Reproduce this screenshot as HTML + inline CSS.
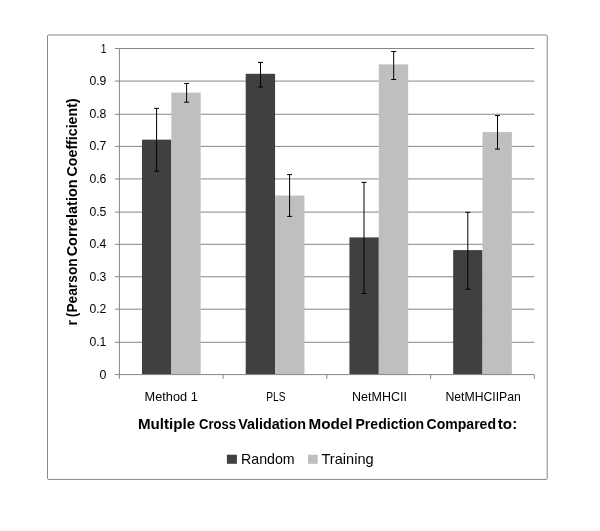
<!DOCTYPE html>
<html><head><meta charset="utf-8"><title>Chart</title>
<style>html,body{margin:0;padding:0;background:#fff;overflow:hidden}svg{display:block}text{font-family:"Liberation Sans",Arial,sans-serif;fill:#000}</style></head><body>
<svg width="600" height="531" viewBox="0 0 600 531">
<rect x="0" y="0" width="600" height="531" fill="#fff"/>
<rect x="47.5" y="35" width="499.7" height="444.4" rx="1" ry="1" fill="#fff" stroke="#868686" stroke-width="1"/>
<line x1="119.4" y1="342.30" x2="534.3" y2="342.30" stroke="#868686" stroke-width="1"/>
<line x1="119.4" y1="309.20" x2="534.3" y2="309.20" stroke="#868686" stroke-width="1"/>
<line x1="119.4" y1="276.75" x2="534.3" y2="276.75" stroke="#868686" stroke-width="1"/>
<line x1="119.4" y1="244.30" x2="534.3" y2="244.30" stroke="#868686" stroke-width="1"/>
<line x1="119.4" y1="212.10" x2="534.3" y2="212.10" stroke="#868686" stroke-width="1"/>
<line x1="119.4" y1="178.95" x2="534.3" y2="178.95" stroke="#868686" stroke-width="1"/>
<line x1="119.4" y1="146.40" x2="534.3" y2="146.40" stroke="#868686" stroke-width="1"/>
<line x1="119.4" y1="114.25" x2="534.3" y2="114.25" stroke="#868686" stroke-width="1"/>
<line x1="119.4" y1="81.10" x2="534.3" y2="81.10" stroke="#868686" stroke-width="1"/>
<line x1="119.4" y1="48.50" x2="534.3" y2="48.50" stroke="#868686" stroke-width="1"/>
<rect x="142.00" y="139.65" width="29.35" height="234.95" fill="#404040"/>
<rect x="171.35" y="92.60" width="29.35" height="282.00" fill="#bfbfbf"/>
<rect x="245.72" y="73.80" width="29.35" height="300.80" fill="#404040"/>
<rect x="275.07" y="195.50" width="29.35" height="179.10" fill="#bfbfbf"/>
<rect x="349.45" y="237.40" width="29.35" height="137.20" fill="#404040"/>
<rect x="378.80" y="64.40" width="29.35" height="310.20" fill="#bfbfbf"/>
<rect x="453.17" y="250.10" width="29.35" height="124.50" fill="#404040"/>
<rect x="482.52" y="132.10" width="29.35" height="242.50" fill="#bfbfbf"/>
<line x1="119.4" y1="48.5" x2="119.4" y2="374.6" stroke="#868686" stroke-width="1"/>
<line x1="119.4" y1="374.6" x2="534.3" y2="374.6" stroke="#868686" stroke-width="1"/>
<line x1="114.9" y1="374.60" x2="119.4" y2="374.60" stroke="#868686" stroke-width="1"/>
<line x1="114.9" y1="342.30" x2="119.4" y2="342.30" stroke="#868686" stroke-width="1"/>
<line x1="114.9" y1="309.20" x2="119.4" y2="309.20" stroke="#868686" stroke-width="1"/>
<line x1="114.9" y1="276.75" x2="119.4" y2="276.75" stroke="#868686" stroke-width="1"/>
<line x1="114.9" y1="244.30" x2="119.4" y2="244.30" stroke="#868686" stroke-width="1"/>
<line x1="114.9" y1="212.10" x2="119.4" y2="212.10" stroke="#868686" stroke-width="1"/>
<line x1="114.9" y1="178.95" x2="119.4" y2="178.95" stroke="#868686" stroke-width="1"/>
<line x1="114.9" y1="146.40" x2="119.4" y2="146.40" stroke="#868686" stroke-width="1"/>
<line x1="114.9" y1="114.25" x2="119.4" y2="114.25" stroke="#868686" stroke-width="1"/>
<line x1="114.9" y1="81.10" x2="119.4" y2="81.10" stroke="#868686" stroke-width="1"/>
<line x1="114.9" y1="48.50" x2="119.4" y2="48.50" stroke="#868686" stroke-width="1"/>
<line x1="119.40" y1="374.6" x2="119.40" y2="378.90000000000003" stroke="#868686" stroke-width="1"/>
<line x1="223.12" y1="374.6" x2="223.12" y2="378.90000000000003" stroke="#868686" stroke-width="1"/>
<line x1="326.85" y1="374.6" x2="326.85" y2="378.90000000000003" stroke="#868686" stroke-width="1"/>
<line x1="430.57" y1="374.6" x2="430.57" y2="378.90000000000003" stroke="#868686" stroke-width="1"/>
<line x1="534.30" y1="374.6" x2="534.30" y2="378.90000000000003" stroke="#868686" stroke-width="1"/>
<path d="M156.60 108.35V171.20M154.10 108.35h5M154.10 171.20h5" stroke="#000" stroke-width="1" fill="none"/>
<path d="M186.60 83.50V102.20M184.10 83.50h5M184.10 102.20h5" stroke="#000" stroke-width="1" fill="none"/>
<path d="M260.50 62.40V87.00M258.00 62.40h5M258.00 87.00h5" stroke="#000" stroke-width="1" fill="none"/>
<path d="M289.60 174.60V216.40M287.10 174.60h5M287.10 216.40h5" stroke="#000" stroke-width="1" fill="none"/>
<path d="M364.00 182.40V293.50M361.50 182.40h5M361.50 293.50h5" stroke="#000" stroke-width="1" fill="none"/>
<path d="M393.70 51.50V79.50M391.20 51.50h5M391.20 79.50h5" stroke="#000" stroke-width="1" fill="none"/>
<path d="M467.80 212.30V289.20M465.30 212.30h5M465.30 289.20h5" stroke="#000" stroke-width="1" fill="none"/>
<path d="M497.50 115.60V149.10M495.00 115.60h5M495.00 149.10h5" stroke="#000" stroke-width="1" fill="none"/>
<text x="99.50" y="378.60" font-size="12.0" textLength="6.90" lengthAdjust="spacingAndGlyphs">0</text>
<text x="89.40" y="346.30" font-size="12.0" textLength="17.00" lengthAdjust="spacingAndGlyphs">0.1</text>
<text x="89.40" y="313.20" font-size="12.0" textLength="17.00" lengthAdjust="spacingAndGlyphs">0.2</text>
<text x="89.40" y="280.75" font-size="12.0" textLength="17.00" lengthAdjust="spacingAndGlyphs">0.3</text>
<text x="89.40" y="248.30" font-size="12.0" textLength="17.00" lengthAdjust="spacingAndGlyphs">0.4</text>
<text x="89.40" y="216.10" font-size="12.0" textLength="17.00" lengthAdjust="spacingAndGlyphs">0.5</text>
<text x="89.40" y="182.95" font-size="12.0" textLength="17.00" lengthAdjust="spacingAndGlyphs">0.6</text>
<text x="89.40" y="150.40" font-size="12.0" textLength="17.00" lengthAdjust="spacingAndGlyphs">0.7</text>
<text x="89.40" y="118.25" font-size="12.0" textLength="17.00" lengthAdjust="spacingAndGlyphs">0.8</text>
<text x="89.40" y="85.10" font-size="12.0" textLength="17.00" lengthAdjust="spacingAndGlyphs">0.9</text>
<text x="100.70" y="52.50" font-size="12.0" textLength="5.70" lengthAdjust="spacingAndGlyphs">1</text>
<text x="144.50" y="401.2" font-size="12.2" textLength="53.31" lengthAdjust="spacingAndGlyphs">Method 1</text>
<text x="266.30" y="401.2" font-size="12.2" textLength="19.20" lengthAdjust="spacingAndGlyphs">PLS</text>
<text x="352.10" y="401.2" font-size="12.2" textLength="54.80" lengthAdjust="spacingAndGlyphs">NetMHCII</text>
<text x="445.40" y="401.2" font-size="12.2" textLength="75.51" lengthAdjust="spacingAndGlyphs">NetMHCIIPan</text>
<text x="138.00" y="428.7" font-size="14.0" font-weight="bold" textLength="57.21" lengthAdjust="spacingAndGlyphs">Multiple</text>
<text x="199.00" y="428.7" font-size="14.0" font-weight="bold" textLength="37.01" lengthAdjust="spacingAndGlyphs">Cross</text>
<text x="238.20" y="428.7" font-size="14.0" font-weight="bold" textLength="67.70" lengthAdjust="spacingAndGlyphs">Validation</text>
<text x="308.50" y="428.7" font-size="14.0" font-weight="bold" textLength="44.10" lengthAdjust="spacingAndGlyphs">Model</text>
<text x="355.50" y="428.7" font-size="14.0" font-weight="bold" textLength="68.70" lengthAdjust="spacingAndGlyphs">Prediction</text>
<text x="426.50" y="428.7" font-size="14.0" font-weight="bold" textLength="69.50" lengthAdjust="spacingAndGlyphs">Compared</text>
<text x="497.80" y="428.7" font-size="14.0" font-weight="bold" textLength="19.40" lengthAdjust="spacingAndGlyphs">to:</text>
<text transform="translate(76.5,325.50) rotate(-90)" font-size="14.0" font-weight="bold" textLength="5.50" lengthAdjust="spacingAndGlyphs">r</text>
<text transform="translate(76.5,317.20) rotate(-90)" font-size="14.0" font-weight="bold" textLength="58.90" lengthAdjust="spacingAndGlyphs">(Pearson</text>
<text transform="translate(76.5,256.30) rotate(-90)" font-size="14.0" font-weight="bold" textLength="76.80" lengthAdjust="spacingAndGlyphs">Correlation</text>
<text transform="translate(76.5,176.40) rotate(-90)" font-size="14.0" font-weight="bold" textLength="78.00" lengthAdjust="spacingAndGlyphs">Coefficient)</text>
<rect x="226.9" y="454.7" width="10" height="9.1" fill="#404040"/>
<text x="241.00" y="464.4" font-size="14.2" textLength="53.70" lengthAdjust="spacingAndGlyphs">Random</text>
<rect x="308" y="454.7" width="9.7" height="9.1" fill="#bfbfbf"/>
<text x="321.50" y="464.4" font-size="14.2" textLength="52.10" lengthAdjust="spacingAndGlyphs">Training</text>
</svg></body></html>
